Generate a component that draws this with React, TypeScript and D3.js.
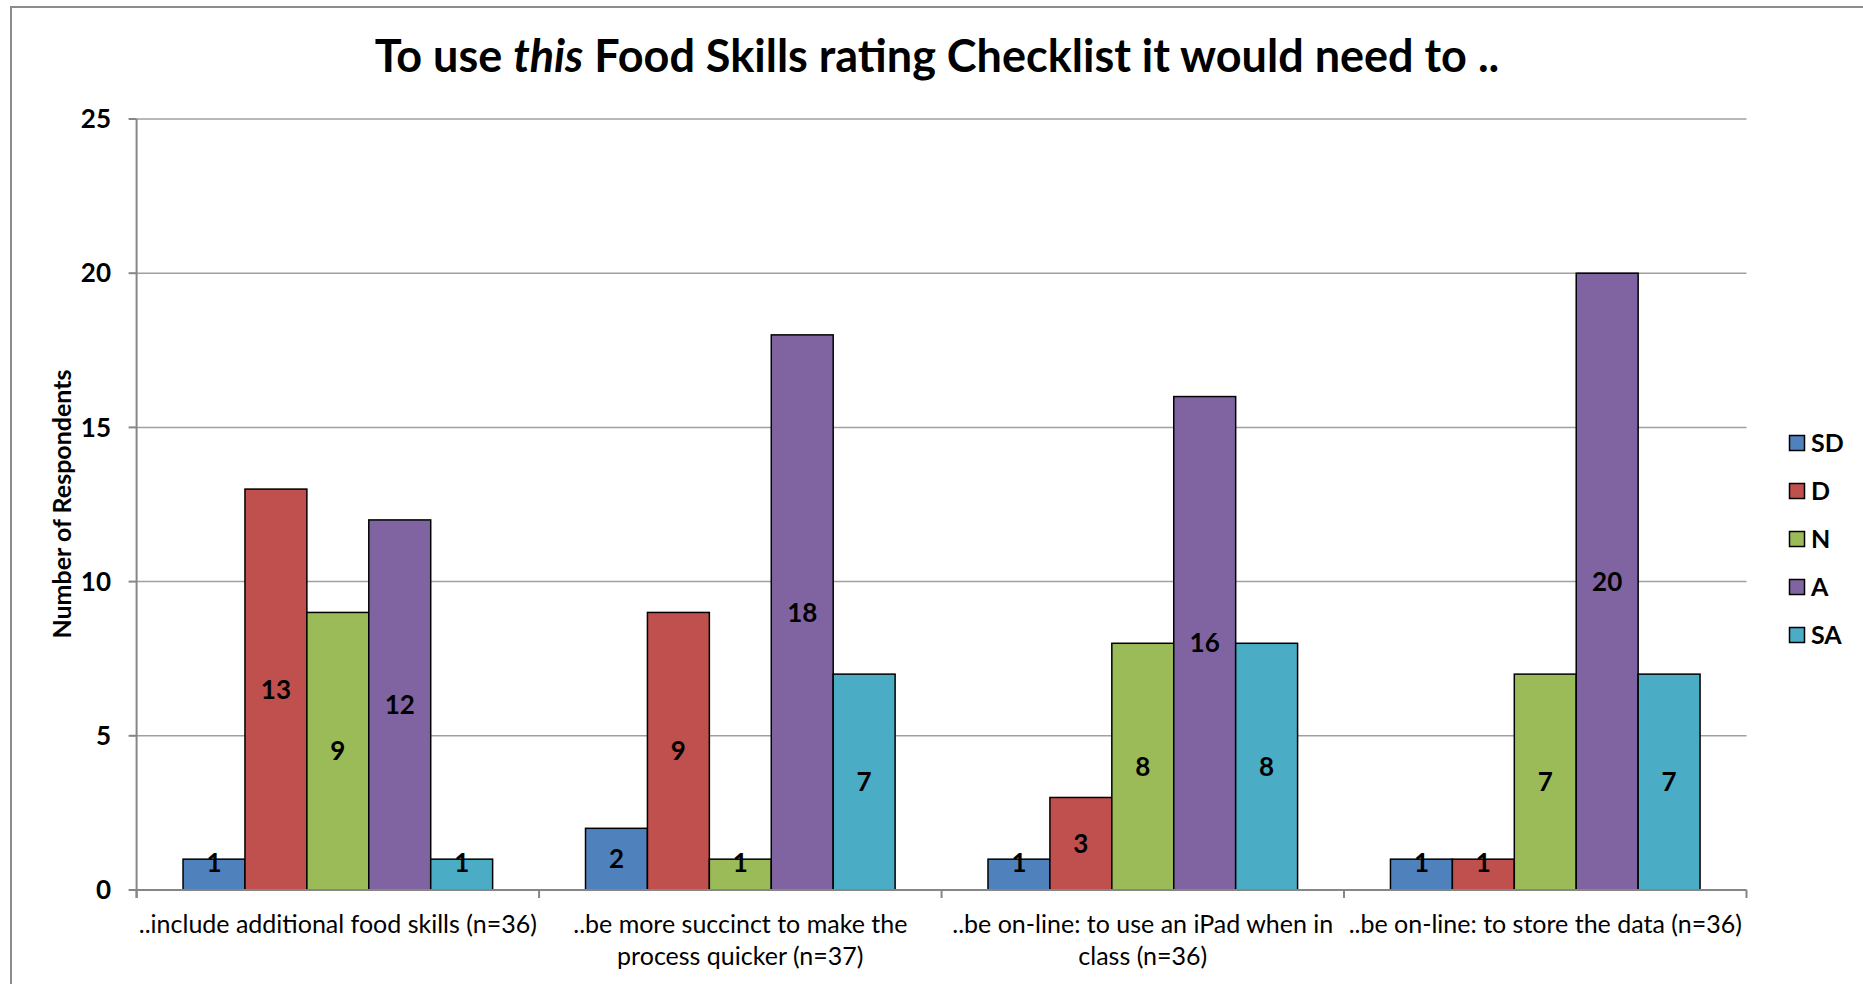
import React, { useEffect } from "react";
import * as d3 from "d3";

const categories: string[][] = [
  ["..include additional food skills (n=36)"],
  ["..be more succinct to make the", "process quicker (n=37)"],
  ["..be on-line: to use an iPad when in", "class (n=36)"],
  ["..be on-line: to store the data (n=36)"],
];
const seriesNames = ["SD", "D", "N", "A", "SA"];
const seriesColors = ["#4F81BD", "#C0504D", "#9BBB59", "#8064A2", "#4BACC6"];
const SD = [1, 2, 1, 1];
const D = [13, 9, 3, 1];
const N = [9, 1, 8, 7];
const A = [12, 18, 16, 20];
const SA = [1, 7, 8, 7];
const seriesValues = [SD, D, N, A, SA];
const yTicks = [0, 5, 10, 15, 20, 25];
const titleParts = ["To use ", "this", " Food Skills rating Checklist it would need to .."];
const yTitle = "Number of Respondents";

const W = 1863;
const H = 984;
const FONT = "Lato, 'Open Sans', sans-serif";

export default function App() {
  useEffect(() => {
    document.body.style.margin = "0";
  }, []);

  const left = 136.6;
  const right = 1746.5;
  const top = 119;
  const bottom = 890;

  const x0 = d3
    .scaleBand<number>()
    .domain(categories.map((_, i) => i))
    .range([left, right])
    .paddingInner(0)
    .paddingOuter(0);
  const x1 = d3
    .scaleBand<number>()
    .domain(seriesNames.map((_, i) => i))
    .range([0, x0.bandwidth()])
    .paddingInner(0)
    .paddingOuter(0.75);
  const y = d3.scaleLinear().domain([0, 25]).range([bottom, top]);

  const boundaries = d3.range(categories.length + 1).map((i) =>
    i < categories.length ? (x0(i) as number) : right
  );

  return (
    <svg width={W} height={H} style={{ display: "block", background: "#fff" }} fontFamily={FONT}>
      <rect x={11} y={7} width={W + 20} height={H + 20} fill="#fff" stroke="#8c8c8c" strokeWidth={2} />
      <text x={937} y={72} textAnchor="middle" fontSize={45} fontWeight="bold" fill="#000">
        <tspan>{titleParts[0]}</tspan>
        <tspan fontStyle="italic">{titleParts[1]}</tspan>
        <tspan>{titleParts[2]}</tspan>
      </text>

      {/* gridlines */}
      {yTicks.map((t) => (
        <line key={"g" + t} x1={left} x2={right} y1={y(t)} y2={y(t)} stroke="#a0a0a0" strokeWidth={1.5} />
      ))}
      {/* y ticks and labels */}
      {yTicks.map((t) => (
        <g key={"yt" + t}>
          <line x1={left - 8} x2={left} y1={y(t)} y2={y(t)} stroke="#868686" strokeWidth={2} />
          <text x={111} y={y(t)} dy="0.35em" textAnchor="end" fontSize={26} fontWeight="bold" fill="#000">
            {t}
          </text>
        </g>
      ))}
      <text
        transform={`translate(${62},${504}) rotate(-90)`}
        textAnchor="middle"
        dy="0.35em"
        fontSize={25}
        fontWeight="bold"
        fill="#000"
      >
        {yTitle}
      </text>

      {/* bars */}
      {categories.map((_, ci) =>
        seriesValues.map((vals, si) => {
          const bx = (x0(ci) as number) + (x1(si) as number);
          const bw = x1.bandwidth();
          const v = vals[ci];
          return (
            <rect
              key={`b${ci}-${si}`}
              x={bx}
              y={y(v)}
              width={bw}
              height={y(0) - y(v)}
              fill={seriesColors[si]}
              stroke="#000"
              strokeWidth={1.5}
            />
          );
        })
      )}
      {/* data labels */}
      {categories.map((_, ci) =>
        seriesValues.map((vals, si) => {
          const bx = (x0(ci) as number) + (x1(si) as number) + x1.bandwidth() / 2;
          const v = vals[ci];
          const h = y(0) - y(v);
          const cy = h < 36 ? y(v) + 4 : (y(v) + y(0)) / 2;
          return (
            <text
              key={`l${ci}-${si}`}
              x={bx}
              y={cy}
              dy="0.35em"
              textAnchor="middle"
              fontSize={26}
              fontWeight="bold"
              fill="#000"
            >
              {v}
            </text>
          );
        })
      )}

      {/* axes */}
      <line x1={left} x2={left} y1={top} y2={bottom + 8} stroke="#868686" strokeWidth={2} />
      <line x1={left} x2={right} y1={bottom} y2={bottom} stroke="#868686" strokeWidth={2} />
      {boundaries.map((bx, i) => (
        <line key={"xt" + i} x1={bx} x2={bx} y1={bottom} y2={bottom + 8} stroke="#868686" strokeWidth={2} />
      ))}
      {categories.map((lines, ci) => (
        <text
          key={"xl" + ci}
          x={(x0(ci) as number) + x0.bandwidth() / 2}
          y={924}
          textAnchor="middle"
          fontSize={25}
          fill="#000"
        >
          {lines.map((ln, li) => (
            <tspan key={li} x={(x0(ci) as number) + x0.bandwidth() / 2} y={924 + li * 32} dy="0.35em">
              {ln}
            </tspan>
          ))}
        </text>
      ))}

      {/* legend */}
      {seriesNames.map((s, i) => {
        const ly = 443 + i * 48;
        return (
          <g key={"lg" + s}>
            <rect x={1789.5} y={ly - 7.5} width={15} height={15} fill={seriesColors[i]} stroke="#000" strokeWidth={1.5} />
            <text x={1811} y={ly} dy="0.35em" fontSize={25} fontWeight="bold" fill="#000">
              {s}
            </text>
          </g>
        );
      })}
    </svg>
  );
}
